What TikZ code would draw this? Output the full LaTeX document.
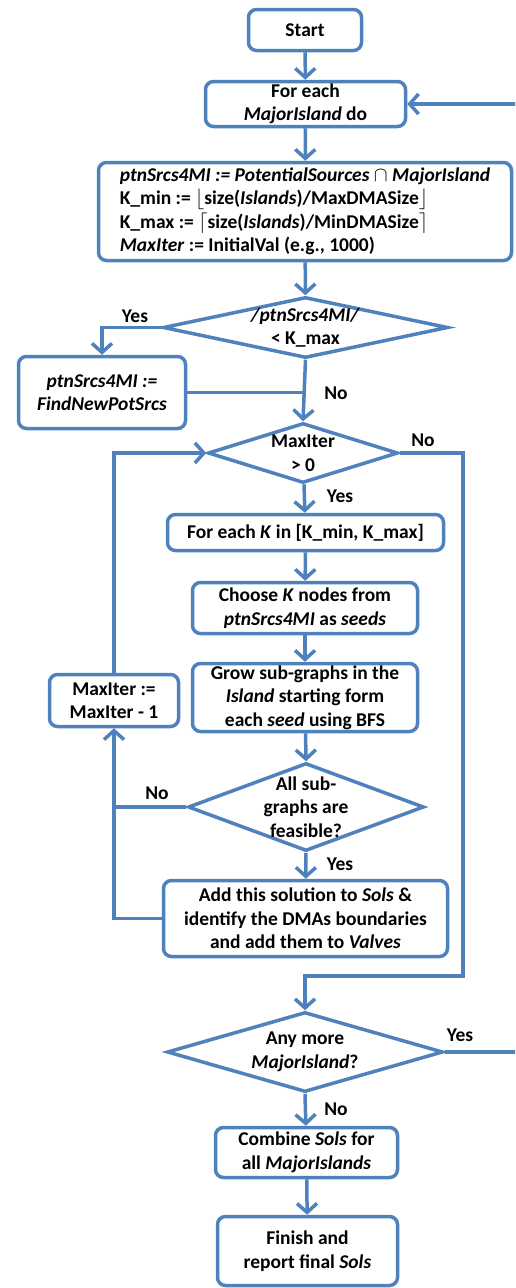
\documentclass[tikz,border=0pt]{standalone}
\usepackage{fontspec}
\setmainfont{Carlito}
\usetikzlibrary{shapes.geometric,arrows.meta}
\definecolor{flowblue}{RGB}{79,129,189}
\tikzset{
	box/.style={draw=flowblue,line width=3.5pt,rounded corners=8pt,align=center,inner sep=1pt},
	decision/.style={draw=flowblue,line width=3.5pt,diamond,inner sep=0pt},
	flow/.style={draw=flowblue,line width=3.5pt},
	arr/.style={flow,-{Straight Barb[length=9pt,width=20pt]}},
	answer/.style={inner sep=0pt}
}
\begin{document}
\begin{tikzpicture}[x=1pt,y=-1pt,font=\bfseries\fontsize{19.5}{23.5}\selectfont]
	\useasboundingbox (0,0) rectangle (515,1288);
	\clip (0,0) rectangle (515,1288);
	% main column
	\node[box,minimum width=113,minimum height=41] (start) at (305,30) {Start};
	\node[box,minimum width=200,minimum height=45] (foreach) at (305.5,104) {For each\\\textit{MajorIsland} do};
	\node[box,minimum width=413,minimum height=98,align=left] (init) at (305,211.5) {\textit{ptnSrcs4MI := PotentialSources} $\cap$ \textit{MajorIsland}\\K\_min := $\lfloor$size(\textit{Islands})/MaxDMASize$\rfloor$\\K\_max := $\lceil$size(\textit{Islands})/MinDMASize$\rceil$\\\textit{MaxIter} := InitialVal (e.g., 1000)};
	\node[decision,minimum width=285,minimum height=61,label={[align=center]center:\textit{/ptnSrcs4MI/}\\< K\_max}] (fewsrc) at (305.5,327.5) {};
	\node[box,minimum width=167,minimum height=72] (findnew) at (102,392.5) {\textit{ptnSrcs4MI :=}\\\textit{FindNewPotSrcs}};
	\node[decision,minimum width=190,minimum height=60,label={[align=center]center:MaxIter\\> 0}] (iterleft) at (303,453) {};
	\node[box,minimum width=276,minimum height=36] (forK) at (305.5,532.5) {For each \textit{K} in [K\_min, K\_max]};
	\node[box,minimum width=225,minimum height=51] (choose) at (305,608) {Choose \textit{K} nodes from\\\textit{ptnSrcs4MI} as \textit{seeds}};
	\node[box,minimum width=225,minimum height=68] (grow) at (305,697.5) {Grow sub-graphs in the\\\textit{Island} starting form\\each \textit{seed} using BFS};
	\node[decision,minimum width=236,minimum height=88,label={[align=center]center:All sub-\\graphs are\\feasible?}] (feasible) at (306,807) {};
	\node[box,minimum width=284,minimum height=76] (addsol) at (305.5,918.5) {Add this solution to \textit{Sols} \&\\identify the DMAs boundaries\\and add them to \textit{Valves}};
	\node[decision,minimum width=276,minimum height=80,label={[align=center]center:Any more\\\textit{MajorIsland}?}] (anymore) at (305,1052) {};
	\node[box,minimum width=182,minimum height=50] (combine) at (306.5,1152.5) {Combine \textit{Sols} for\\all \textit{MajorIslands}};
	\node[box,minimum width=180,minimum height=69] (finish) at (307.5,1251) {Finish and\\report final \textit{Sols}};
	\node[box,minimum width=129,minimum height=52] (decrease) at (114,700.5) {MaxIter :=\\MaxIter - 1};
	% branch labels
	\node[answer] (yes1) at (135,316) {Yes};
	\node[answer] (no1) at (336,393) {No};
	\node[answer] (no2) at (423,440) {No};
	\node[answer] (yes2) at (340,496) {Yes};
	\node[answer] (no3) at (157,793) {No};
	\node[answer] (yes3) at (340,864) {Yes};
	\node[answer] (yes4) at (460,1035) {Yes};
	\node[answer] (no4) at (336,1109) {No};
	% turning points
	\coordinate (skip) at (463,976);
	\coordinate (back) at (530,1052);
	% connectors
	\draw[arr] (start) -- (foreach);
	\draw[arr] (foreach) -- (init);
	\draw[arr] (init) -- (fewsrc);
	\draw[arr] (fewsrc.west) -| (findnew.north);
	\draw[flow] (findnew.east) -- (findnew.east -| fewsrc.south);
	\draw[arr] (fewsrc.south) -- (iterleft.north);
	\draw[arr] (iterleft.east) -| (skip) -| (anymore.north);
	\draw[arr] (iterleft) -- (forK);
	\draw[arr] (forK) -- (choose);
	\draw[arr] (choose) -- (grow);
	\draw[arr] (grow) -- (feasible.north);
	\draw[arr] (feasible.south) -- (addsol);
	\draw[arr] (addsol.west) -| (decrease.south);
	\draw[flow] (feasible.west) -- (feasible.west -| decrease.south);
	\draw[arr] (decrease.north) |- (iterleft.west);
	\draw[arr] (anymore.east) -- (back) |- (foreach.east);
	\draw[arr] (anymore.south) -- (combine);
	\draw[arr] (combine) -- (finish);
\end{tikzpicture}
\end{document}
